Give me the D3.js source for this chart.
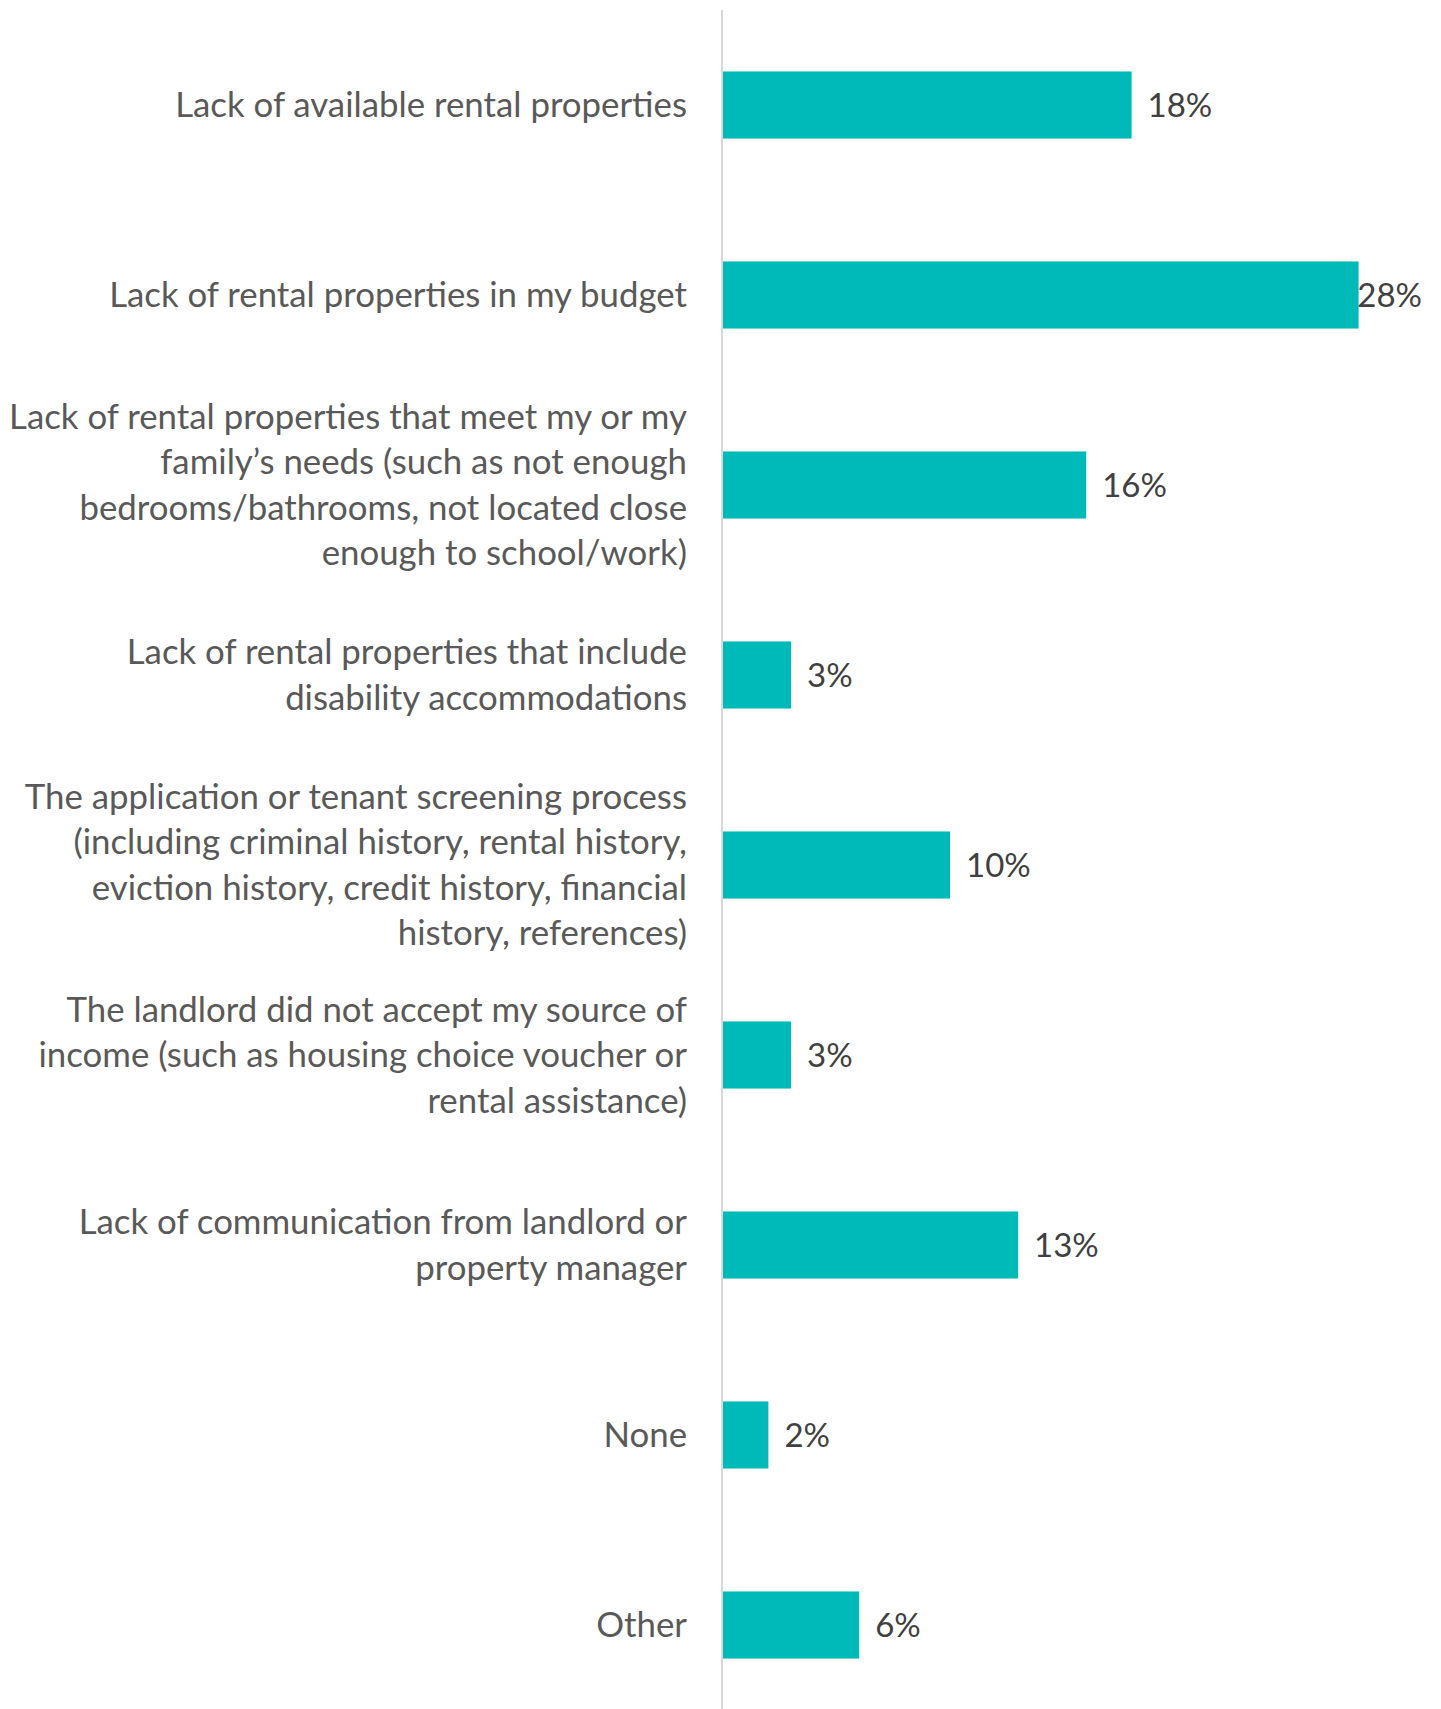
<!DOCTYPE html>
<html>
<head>
<meta charset="utf-8">
<script src="https://cdn.jsdelivr.net/npm/d3@7"></script>
<style>
  html, body { margin: 0; padding: 0; background: #ffffff; }
  svg { display: block; }
</style>
</head>
<body>
<svg id="chart" width="1441" height="1709"></svg>
<script>
// Barriers faced when looking for a rental home (share of respondents)
const categories = [
  "Lack of available rental properties",
  "Lack of rental properties in my budget",
  "Lack of rental properties that meet my or my\nfamily’s needs (such as not enough\nbedrooms/bathrooms, not located close\nenough to school/work)",
  "Lack of rental properties that include\ndisability accommodations",
  "The application or tenant screening process\n(including criminal history, rental history,\neviction history, credit history, financial\nhistory, references)",
  "The landlord did not accept my source of\nincome (such as housing choice voucher or\nrental assistance)",
  "Lack of communication from landlord or\nproperty manager",
  "None",
  "Other"
];
const values = [0.18, 0.28, 0.16, 0.03, 0.10, 0.03, 0.13, 0.02, 0.06];

const W = 1441, H = 1709;
const axisX = 722;
const svg = d3.select("#chart");

const x = d3.scaleLinear().domain([0, 0.30]).range([axisX + 1, axisX + 1 + 30 * 22.7]);
const y = d3.scaleBand()
  .domain(categories)
  .range([10, 1720])
  .paddingInner(0.647)
  .paddingOuter(0.3235);

const fmt = d3.format(".0%");
const FONT = "Lato, 'Open Sans', sans-serif";

// bars
svg.append("g")
  .selectAll("rect")
  .data(values)
  .join("rect")
  .attr("x", x(0))
  .attr("y", (d, i) => y(categories[i]))
  .attr("width", d => x(d) - x(0))
  .attr("height", y.bandwidth())
  .attr("fill", "#00B9B9");

// category axis line
svg.append("line")
  .attr("x1", axisX).attr("x2", axisX)
  .attr("y1", 10).attr("y2", H)
  .attr("stroke", "#D9D9D9")
  .attr("stroke-width", 2);

// category labels, right-aligned and centred on their bar
const lineH = 45.5;
const labels = svg.append("g")
  .attr("font-family", FONT)
  .attr("font-size", 34.8)
  .attr("fill", "#595959")
  .attr("text-anchor", "end");

categories.forEach(c => {
  const lines = c.split("\n");
  const cy = y(c) + y.bandwidth() / 2;
  const t = labels.append("text")
    .attr("x", 687)
    .attr("y", cy - (lines.length - 1) * lineH / 2);
  lines.forEach((ln, j) => {
    t.append("tspan")
      .attr("x", 687)
      .attr("dy", j === 0 ? "0.35em" : lineH)
      .text(ln);
  });
});

// value labels; kept inside the right edge when the bar is long
const vals = svg.append("g")
  .attr("font-family", FONT)
  .attr("font-size", 33)
  .attr("fill", "#404040");

values.forEach((v, i) => {
  const t = vals.append("text")
    .attr("y", y(categories[i]) + y.bandwidth() / 2)
    .attr("dy", "0.35em")
    .text(fmt(v));
  const w = t.node().getComputedTextLength();
  t.attr("x", Math.min(x(v) + 16, 1422 - w));
});
</script>
</body>
</html>
